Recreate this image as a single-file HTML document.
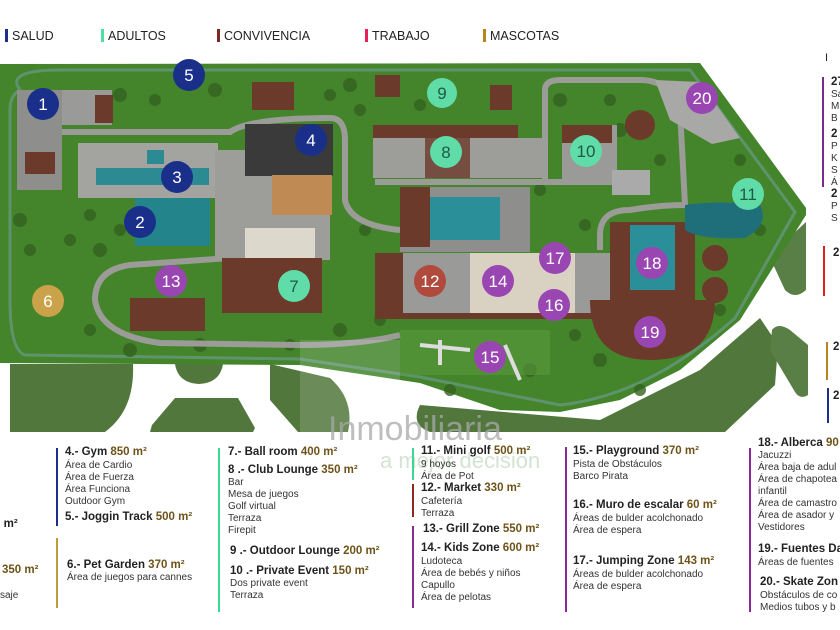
<!DOCTYPE html>
<html><head><meta charset="utf-8"><style>
body{margin:0;width:840px;height:630px;background:#fff;overflow:hidden;position:relative;font-family:"Liberation Sans",sans-serif;}
.t{position:absolute;white-space:nowrap;color:#222;}
.h{font-weight:bold;font-size:11.5px;}
.h b{color:#6e5318;font-weight:bold;}
.i{font-size:10px;color:#333;line-height:12px;}
.bar{position:absolute;width:2px;}
.lg{position:absolute;top:29px;font-size:12.5px;color:#222;}
.lg span{display:inline-block;width:3px;height:13px;vertical-align:-2px;margin-right:4px;}
</style></head><body>
<div class="lg" style="left:5px"><span style="background:#1c2e8c"></span>SALUD</div>
<div class="lg" style="left:101px"><span style="background:#4fe0a0"></span>ADULTOS</div>
<div class="lg" style="left:217px"><span style="background:#7a2a22"></span>CONVIVENCIA</div>
<div class="lg" style="left:365px"><span style="background:#e8205a"></span>TRABAJO</div>
<div class="lg" style="left:483px"><span style="background:#b8861e"></span>MASCOTAS</div>

<svg style="position:absolute;left:0;top:0" width="840" height="630">
<!-- lower lawns -->
<g fill="#52773d">
<path d="M10,364 L133,364 Q135,410 105,432 L10,432 Z"/>
<path d="M175,364 L223,364 Q220,383 199,384 Q178,383 175,364 Z"/>
<path d="M175,398 L238,398 L255,428 L253,432 L150,432 L152,425 Z"/>
<path d="M270,364 L330,378 Q355,400 348,432 L298,432 L270,400 Z"/>
<path d="M420,405 L600,420 L700,370 L760,318 L778,345 L775,385 L725,432 L430,432 Q410,425 420,405 Z"/>
<path d="M806,222 L806,290 Q795,300 785,290 L772,262 Q770,252 780,246 Z" fill="#5a7f46"/>
<path d="M772,330 Q778,322 790,330 L808,345 L808,395 Q800,400 795,392 L770,350 Z" fill="#5a7f46"/>
</g>
<!-- main grass -->
<path d="M0,64 L700,63 L806,208 L806,215 L740,320 L680,370 L620,400 L560,412 L500,410 L420,383 L300,365 L0,363 Z" fill="#44852b"/>
<!-- river path outline -->
<path d="M20,90 Q5,70 60,70 L690,70 L795,212 L735,318 Q650,395 560,405 L420,377 L300,359 L25,355 Q10,350 10,300 L10,110 Q10,95 20,90 Z" fill="none" stroke="#6a9a8a" stroke-width="3" opacity="0.7"/>
<!-- trees texture -->
<g fill="#33621f" opacity="0.8">
<circle cx="120" cy="95" r="7"/><circle cx="155" cy="100" r="6"/><circle cx="215" cy="90" r="7"/><circle cx="350" cy="85" r="7"/><circle cx="20" cy="220" r="7"/><circle cx="90" cy="215" r="6"/><circle cx="100" cy="250" r="7"/><circle cx="240" cy="250" r="6"/><circle cx="130" cy="350" r="7"/><circle cx="200" cy="345" r="7"/><circle cx="340" cy="330" r="7"/><circle cx="380" cy="320" r="6"/><circle cx="560" cy="100" r="7"/><circle cx="620" cy="130" r="7"/><circle cx="540" cy="190" r="6"/><circle cx="600" cy="360" r="7"/><circle cx="700" cy="330" r="6"/><circle cx="450" cy="390" r="6"/><circle cx="530" cy="370" r="7"/><circle cx="740" cy="160" r="6"/>
<circle cx="30" cy="250" r="6"/><circle cx="70" cy="240" r="6"/><circle cx="120" cy="230" r="6"/><circle cx="250" cy="200" r="6"/><circle cx="360" cy="110" r="6"/><circle cx="330" cy="95" r="6"/><circle cx="235" cy="210" r="6"/><circle cx="365" cy="230" r="6"/><circle cx="585" cy="225" r="6"/><circle cx="575" cy="335" r="6"/><circle cx="640" cy="390" r="6"/><circle cx="720" cy="310" r="6"/><circle cx="760" cy="230" r="6"/><circle cx="660" cy="160" r="6"/><circle cx="610" cy="100" r="6"/><circle cx="420" cy="105" r="6"/><circle cx="290" cy="345" r="6"/><circle cx="90" cy="330" r="6"/>
</g>
<!-- roads -->
<g fill="none" stroke="#9b9b98" stroke-width="6">
<path d="M60,132 L230,132 Q250,118 330,118 Q345,118 345,140 L345,200 Q350,225 400,230"/>
<path d="M230,258 L130,265 Q95,270 95,300 Q100,335 160,343 L300,345 Q360,345 400,335"/>
<path d="M375,182 L625,182"/>
<path d="M545,180 L545,90 Q545,80 560,80 L640,80 Q670,80 680,110 L685,205 Q660,205 630,210 Q600,210 600,235 L600,250"/>
</g>
<!-- buildings left -->
<rect x="17" y="90" width="45" height="100" fill="#8e8e8c"/>
<rect x="25" y="152" width="30" height="22" fill="#6b3a2a"/>
<rect x="62" y="90" width="50" height="35" fill="#9a9a98"/>
<rect x="95" y="95" width="18" height="28" fill="#6b3a2a"/>
<rect x="78" y="143" width="140" height="55" fill="#a3a3a0"/>
<rect x="96" y="168" width="113" height="17" fill="#2c8a92"/>
<rect x="147" y="150" width="17" height="14" fill="#2c8a92"/>
<rect x="135" y="198" width="75" height="48" fill="#23848c"/>
<rect x="215" y="150" width="115" height="110" fill="#9d9d9a"/>
<rect x="245" y="124" width="88" height="52" fill="#3a3a3a"/>
<rect x="272" y="175" width="60" height="40" fill="#c08a55"/>
<rect x="245" y="228" width="70" height="30" fill="#ddd8cc"/>
<rect x="222" y="258" width="100" height="55" fill="#6b3a2a"/>
<rect x="130" y="298" width="75" height="33" fill="#6b3a2a"/>
<rect x="252" y="82" width="42" height="28" fill="#6b3a2a"/>
<!-- center -->
<rect x="373" y="125" width="145" height="15" fill="#6b3a2a"/>
<rect x="373" y="138" width="175" height="40" fill="#9d9d9a"/>
<rect x="425" y="138" width="45" height="40" fill="#6b3a2a" opacity="0.8"/>
<rect x="375" y="75" width="25" height="22" fill="#6b3a2a"/>
<rect x="490" y="85" width="22" height="25" fill="#6b3a2a"/>
<rect x="400" y="187" width="130" height="65" fill="#8e8e8c"/>
<rect x="400" y="187" width="30" height="60" fill="#6b3a2a"/>
<rect x="430" y="197" width="70" height="43" fill="#2a8f99"/>
<rect x="375" y="253" width="240" height="65" fill="#9a9a98"/>
<rect x="375" y="253" width="28" height="60" fill="#6b3a2a"/>
<rect x="470" y="253" width="105" height="60" fill="#d9d2c2"/>
<rect x="375" y="313" width="240" height="6" fill="#6b3a2a"/>
<rect x="562" y="125" width="55" height="55" fill="#9a9a98"/>
<rect x="562" y="125" width="50" height="18" fill="#6b3a2a"/>
<rect x="612" y="170" width="38" height="25" fill="#aaa"/>
<!-- right -->
<rect x="610" y="222" width="85" height="80" fill="#6b3a2a"/>
<rect x="630" y="225" width="45" height="65" fill="#2a8f99"/>
<path d="M590,300 L715,300 Q715,360 650,360 Q590,360 590,300 Z" fill="#6b3a2a"/>
<circle cx="640" cy="125" r="15" fill="#6b3a2a"/>
<circle cx="715" cy="258" r="13" fill="#6b3a2a"/>
<circle cx="715" cy="290" r="13" fill="#6b3a2a"/>
<path d="M655,80 L700,82 L740,138 L712,144 L670,120 Z" fill="#a8a8a6"/>
<path d="M685,205 Q720,200 760,205 Q770,225 745,238 Q700,240 685,230 Z" fill="#1f6f7a"/>
<rect x="400" y="330" width="150" height="45" fill="#5a9a3e" opacity="0.6"/>
<path d="M420,345 L470,350 M440,340 L440,365 M505,345 L520,380" stroke="#ddd" stroke-width="4"/>
<!-- circles -->
<g font-family="Liberation Sans, sans-serif" font-size="17" fill="#fff" text-anchor="middle">
<g fill="#1a2f8a"><circle cx="43" cy="104" r="16"/><circle cx="189" cy="75" r="16"/><circle cx="311" cy="140" r="16"/><circle cx="177" cy="177" r="16"/><circle cx="140" cy="222" r="16"/></g>
<circle cx="48" cy="301" r="16" fill="#c9a24a"/>
<g fill="#5fdca8"><circle cx="294" cy="286" r="16"/><circle cx="442" cy="93" r="15"/><circle cx="446" cy="152" r="16"/><circle cx="586" cy="151" r="16"/><circle cx="748" cy="194" r="16"/></g>
<circle cx="430" cy="281" r="16" fill="#b04a3c"/>
<g fill="#9a46b2"><circle cx="171" cy="281" r="16"/><circle cx="702" cy="98" r="16"/><circle cx="652" cy="263" r="16"/><circle cx="555" cy="258" r="16"/><circle cx="498" cy="281" r="16"/><circle cx="554" cy="305" r="16"/><circle cx="650" cy="332" r="16"/><circle cx="490" cy="357" r="16"/></g>
<text x="43" y="110">1</text><text x="189" y="81">5</text><text x="311" y="146">4</text><text x="177" y="183">3</text><text x="140" y="228">2</text><text x="48" y="307">6</text><text x="294" y="292" fill="#1e5a44">7</text><text x="442" y="99" fill="#1e5a44">9</text><text x="446" y="158" fill="#1e5a44">8</text><text x="586" y="157" fill="#1e5a44">10</text><text x="748" y="200" fill="#1e5a44">11</text><text x="430" y="287">12</text><text x="171" y="287">13</text><text x="702" y="104">20</text><text x="652" y="269">18</text><text x="555" y="264">17</text><text x="498" y="287">14</text><text x="554" y="311">16</text><text x="650" y="338">19</text><text x="490" y="363">15</text>
</g>
<!-- watermark -->
<rect x="300" y="340" width="100" height="92" fill="#fff" opacity="0.15"/>
<text x="328" y="440" font-family="Liberation Sans, sans-serif" font-size="34" fill="#a9a9a9" opacity="0.75">Inmobiliaria</text>
<text x="380" y="468" font-family="Liberation Sans, sans-serif" font-size="22" fill="#c9dec9" opacity="0.8">a mejor decisión</text>
</svg>

<!-- right cropped column -->
<div class="t" style="left:825px;top:52px;font-size:11px">I</div>
<div class="bar" style="left:822px;top:77px;height:110px;background:#7a2a8a"></div>
<div class="t h" style="left:831px;top:76px">27</div><div class="t i" style="left:831px;top:89px">Sa<br>M<br>B</div>
<div class="t h" style="left:831px;top:128px">2</div><div class="t i" style="left:831px;top:141px">P<br>K<br>S<br>Á</div>
<div class="t h" style="left:831px;top:188px">2</div><div class="t i" style="left:831px;top:201px">P<br>S</div>
<div class="bar" style="left:823px;top:246px;height:50px;background:#e02020"></div>
<div class="t h" style="left:833px;top:247px">2</div>
<div class="bar" style="left:826px;top:342px;height:38px;background:#b8861e"></div>
<div class="t h" style="left:833px;top:341px">2</div>
<div class="bar" style="left:827px;top:388px;height:35px;background:#1c2e8c"></div>
<div class="t h" style="left:833px;top:390px">2</div>

<!-- bottom left cropped -->
<div class="t h" style="left:-6px;top:518px">0 m²</div>
<div class="t h" style="left:2px;top:564px;color:#6e5318">350 m²</div>
<div class="t i" style="left:0px;top:590px">saje</div>

<div class="bar" style="left:56px;top:448px;height:78px;background:#1c2e8c"></div>
<div class="t h" style="left:65px;top:446px">4.- Gym <b>850 m²</b></div>
<div class="t i" style="left:65px;top:460px">Área de Cardio<br>Área de Fuerza<br>Área Funciona<br>Outdoor Gym</div>
<div class="t h" style="left:65px;top:511px">5.- Joggin Track <b>500 m²</b></div>
<div class="bar" style="left:56px;top:538px;height:70px;background:#c29a3a"></div>
<div class="t h" style="left:67px;top:559px">6.- Pet Garden <b>370 m²</b></div>
<div class="t i" style="left:67px;top:572px">Área de juegos para cannes</div>

<div class="bar" style="left:218px;top:448px;height:164px;background:#3ad890"></div>
<div class="t h" style="left:228px;top:446px">7.- Ball room <b>400 m²</b></div>
<div class="t h" style="left:228px;top:464px">8 .- Club Lounge <b>350 m²</b></div>
<div class="t i" style="left:228px;top:477px">Bar<br>Mesa de juegos<br>Golf virtual<br>Terraza<br>Firepit</div>
<div class="t h" style="left:230px;top:545px">9 .- Outdoor Lounge <b>200 m²</b></div>
<div class="t h" style="left:230px;top:565px">10 .- Private Event <b>150 m²</b></div>
<div class="t i" style="left:230px;top:578px">Dos private event<br>Terraza</div>

<div class="bar" style="left:412px;top:448px;height:32px;background:#3ad890"></div>
<div class="bar" style="left:412px;top:484px;height:33px;background:#8a2a20"></div>
<div class="bar" style="left:412px;top:526px;height:82px;background:#8a2a9a"></div>
<div class="t h" style="left:421px;top:445px">11.- Mini golf <b>500 m²</b></div>
<div class="t i" style="left:421px;top:459px">9 hoyos<br>Área de Pot</div>
<div class="t h" style="left:421px;top:482px">12.- Market <b>330 m²</b></div>
<div class="t i" style="left:421px;top:496px">Cafetería<br>Terraza</div>
<div class="t h" style="left:423px;top:523px">13.- Grill Zone <b>550 m²</b></div>
<div class="t h" style="left:421px;top:542px">14.- Kids Zone <b>600 m²</b></div>
<div class="t i" style="left:421px;top:556px">Ludoteca<br>Área de bebés y niños<br>Capullo<br>Área de pelotas</div>

<div class="bar" style="left:565px;top:447px;height:165px;background:#8a2a9a"></div>
<div class="t h" style="left:573px;top:445px">15.- Playground <b>370 m²</b></div>
<div class="t i" style="left:573px;top:459px">Pista de Obstáculos<br>Barco Pirata</div>
<div class="t h" style="left:573px;top:499px">16.- Muro de escalar <b>60 m²</b></div>
<div class="t i" style="left:573px;top:513px">Áreas de bulder acolchonado<br>Área de espera</div>
<div class="t h" style="left:573px;top:555px">17.- Jumping Zone <b>143 m²</b></div>
<div class="t i" style="left:573px;top:569px">Áreas de bulder acolchonado<br>Área de espera</div>

<div class="bar" style="left:749px;top:448px;height:164px;background:#8a2a9a"></div>
<div class="t h" style="left:758px;top:437px">18.- Alberca <b>90</b></div>
<div class="t i" style="left:758px;top:450px">Jacuzzi<br>Área baja de adul<br>Área de chapotea<br>infantil<br>Área de camastro<br>Área de asador y<br>Vestidores</div>
<div class="t h" style="left:758px;top:543px">19.- Fuentes Da</div>
<div class="t i" style="left:758px;top:557px">Áreas de fuentes</div>
<div class="t h" style="left:760px;top:576px">20.- Skate Zon</div>
<div class="t i" style="left:760px;top:590px">Obstáculos de co<br>Medios tubos y b</div>
</body></html>
